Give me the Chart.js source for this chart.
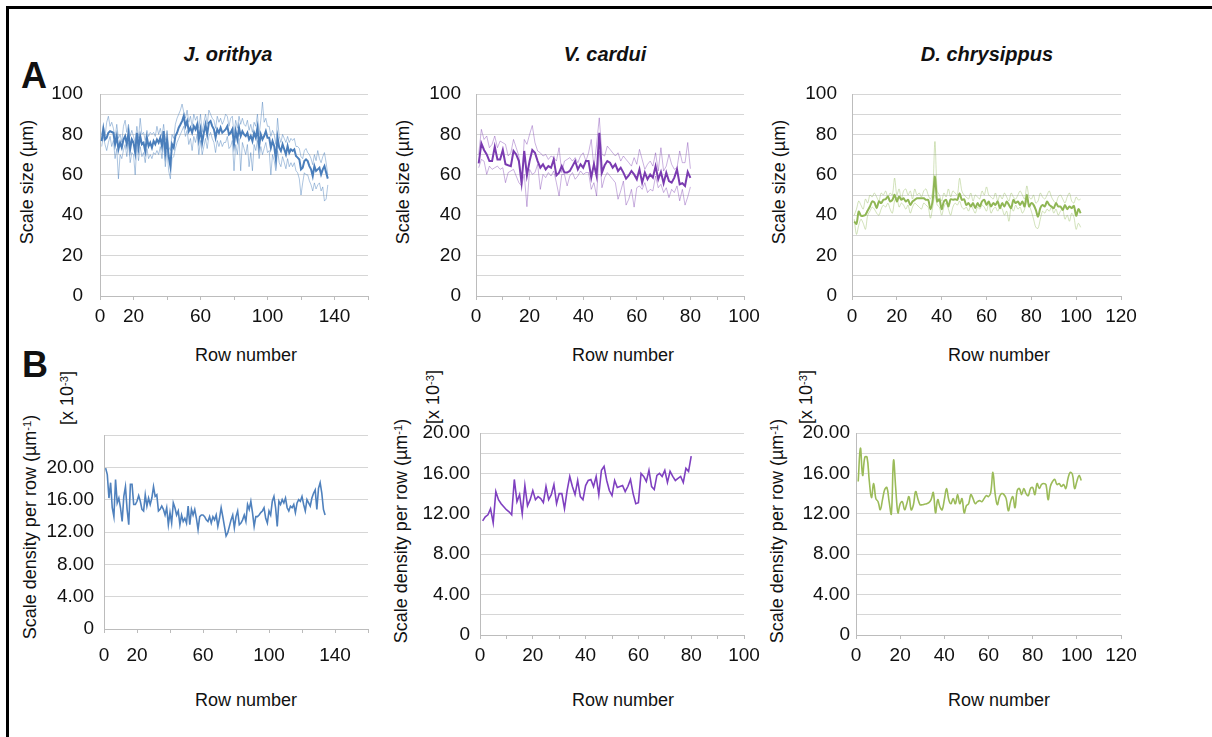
<!DOCTYPE html>
<html><head><meta charset="utf-8">
<script src="https://cdn.jsdelivr.net/npm/chart.js@4.4.0/dist/chart.umd.min.js"></script>
<style>
html,body{margin:0;padding:0;background:#fff;width:1212px;height:737px;overflow:hidden;position:relative;font-family:"Liberation Sans",Arial,sans-serif;color:#111}
.frame{position:absolute;left:6px;top:6px;width:1240px;height:780px;border:3px solid #000;box-sizing:border-box}
.t{position:absolute;white-space:nowrap;line-height:1;font-size:18px;transform:translate(-50%,-50%)}
.r{transform:translate(-50%,-50%) rotate(-90deg)}
.bi{font-weight:bold;font-style:italic;font-size:20px}
.big{font-weight:bold;font-size:36px}
.sp{position:relative;top:-0.45em;font-size:0.62em}
canvas{position:absolute}
</style></head>
<body>
<div class="frame"></div>
<div class="t big" style="left:34px;top:76px">A</div>
<div class="t big" style="left:35px;top:365px">B</div>
<div class="t bi" style="left:228px;top:54px">J. orithya</div>
<div class="t bi" style="left:605px;top:54px">V. cardui</div>
<div class="t bi" style="left:987px;top:54px">D. chrysippus</div>
<div class="t r" style="left:27px;top:182px">Scale size (µm)</div>
<div class="t r" style="left:403px;top:182px">Scale size (µm)</div>
<div class="t r" style="left:779px;top:182px">Scale size (µm)</div>
<div class="t" style="left:246px;top:355px">Row number</div>
<div class="t" style="left:623px;top:355px">Row number</div>
<div class="t" style="left:999px;top:355px">Row number</div>
<div class="t r" style="left:30px;top:527px">Scale density per row (µm<span class="sp">-1</span>)</div>
<div class="t r" style="left:401px;top:531px">Scale density per row (µm<span class="sp">-1</span>)</div>
<div class="t r" style="left:777px;top:531px">Scale density per row (µm<span class="sp">-1</span>)</div>
<div class="t r" style="left:67px;top:398px">[x 10<span class="sp">-3</span>]</div>
<div class="t r" style="left:433px;top:397px">[x 10<span class="sp">-3</span>]</div>
<div class="t r" style="left:806px;top:397px">[x 10<span class="sp">-3</span>]</div>
<div class="t" style="left:246px;top:700px">Row number</div>
<div class="t" style="left:623px;top:700px">Row number</div>
<div class="t" style="left:999px;top:700px">Row number</div>
<script>
// ---------- DATA ----------
const orithyaSizeMean = [76.7,82.8,77.5,78.4,80.8,81.6,81.2,80.8,75.1,79.2,
72.6,75.9,73.4,77.5,79.2,75.1,80.8,72.6,77.5,75.9,
70.9,80.8,73.4,79.2,75.1,75.9,71.8,78.4,74.2,75.9,
73.4,76.7,75.1,77.5,75.9,78.4,74.2,81.6,70.9,77.5,
69.3,64.3,75.1,73.4,79.2,80.8,83.3,84.9,86.6,89.1,
84.1,86.6,81.6,83.3,80.8,84.1,82.5,84.9,77.5,82.5,
75.9,80.8,84.9,80.0,85.8,86.6,84.1,82.5,78.4,82.5,
80.8,83.3,80.8,81.6,82.5,84.1,80.0,80.8,82.5,75.1,
81.6,77.5,83.3,79.2,81.6,80.0,79.2,80.8,77.5,79.2,
76.7,80.8,78.4,83.3,74.2,80.0,77.5,79.2,81.6,78.4,
78.4,73.4,76.7,74.2,67.6,78.4,73.4,71.8,75.1,72.6,
70.1,74.2,70.9,72.6,71.8,72.6,69.3,68.5,67.6,62.7,
63.5,66.8,67.6,66.8,64.3,62.7,59.4,64.3,61.9,62.7,
63.5,60.2,62.7,64.3,61.1,58.1];
const orithyaSizeUpper = [80,84,79,86,89,84,86,83,78,85,
78,80,76,84,87,81,85,79,82,79,
76,84,78,88,80,81,77,82,79,81,
80,81,79,84,80,83,79,85,77,82,
74,72,80,78,85,88,90,92,95,91,
88,92,86,89,84,90,87,89,83,90,
81,86,90,85,92,90,88,87,83,89,
86,88,85,87,90,89,84,88,89,80,
87,83,89,85,88,85,84,87,82,85,
81,86,84,90,80,87,96,86,88,84,
84,79,82,80,75,88,79,76,80,78,
76,79,76,78,77,78,74,74,73,69,
68,72,73,71,70,68,65,70,67,72,
68,66,69,71,66,60];
const orithyaSizeLower = [74,79,75,72,76,79,74,77,68,73,
58,70,68,72,75,69,76,66,71,70,
60,75,67,74,69,71,66,73,68,70,
68,71,70,72,70,74,68,76,64,72,
62,58,68,69,73,76,78,80,82,84,
79,82,75,78,72,79,76,80,70,77,
70,74,78,73,79,81,78,76,71,77,
74,77,74,76,76,79,73,74,77,62,
75,70,78,62,76,73,70,75,64,71,
62,75,72,77,68,74,70,73,76,71,
72,60,70,67,62,72,66,64,69,66,
63,68,64,66,64,66,62,61,58,50,
56,61,60,60,57,55,52,56,53,55,
56,52,54,47,48,55];

const carduiSizeMean = [65.7,75.6,72.3,70.1,66.8,66.8,73.9,67.6,67.6,72.3,
65.2,64.7,64.3,71.8,70.1,66.8,56.1,71.8,59.7,66.8,
72.3,70.9,66.8,63.5,65.2,62.7,64.3,63.5,67.6,59.7,
61.1,64.3,61.1,61.1,61.9,64.3,66.8,62.7,65.2,63.5,
66.8,66.8,58.6,65.2,59.4,80.8,61.1,64.7,66.8,66.0,
63.5,65.2,61.9,63.5,61.1,58.1,59.7,61.9,60.2,57.8,
62.7,56.1,61.1,57.8,60.2,58.6,64.3,57.8,61.4,55.8,
61.1,56.9,56.1,58.6,62.7,55.3,55.8,54.5,61.5,58.5];
const carduiSizeUpper = [70.1,82.5,77.5,79.2,73.4,75.1,79.2,73.4,76.7,75.9,
75.1,69.3,70.9,77.5,73.4,69.3,54.5,77.5,75.1,80.0,
84.4,75.9,71.8,70.9,69.3,70.1,67.6,69.3,68.5,66.8,
73.4,61.1,66.8,67.6,68.5,66.8,68.5,66.0,69.3,70.9,
66.8,70.9,77.5,63.5,75.1,88.2,70.1,69.3,74.2,72.6,
70.9,69.3,70.9,66.8,69.3,67.6,66.0,64.3,68.5,65.2,
72.6,67.6,62.7,65.2,66.8,64.3,70.9,61.9,73.4,61.9,
64.3,70.1,65.2,62.7,63.5,71.8,66.0,66.0,76.0,63.0];
const carduiSizeLower = [63.5,67.6,66.8,60.2,64.3,62.7,63.5,64.3,62.7,63.5,
56.1,61.1,61.9,62.7,59.4,56.1,54.5,60.2,44.2,62.7,
60.2,61.1,65.2,52.8,60.2,58.6,61.1,59.4,61.9,56.1,
49.5,60.2,60.2,54.5,59.4,61.1,57.8,59.4,61.9,60.2,
61.1,61.1,52.8,56.1,49.5,71.8,53.6,58.6,61.1,59.4,
57.8,56.1,47.9,52.0,56.9,45.0,47.9,52.8,44.0,53.6,
54.5,52.8,56.1,51.2,52.8,52.0,59.4,53.6,55.3,51.2,
53.6,48.7,52.8,51.2,54.5,47.1,52.8,45.0,49.0,54.0];

const chrysippusSizeMean = [36.9,35.7,41.8,39.7,39.7,40.2,42.3,44.3,46.8,46.3,
43.5,46.8,46.0,47.6,47.9,49.3,46.8,47.6,50.1,46.8,
49.3,47.6,48.4,46.8,47.6,45.1,46.8,47.6,48.4,48.4,
48.4,48.4,47.6,47.6,43.0,47.6,59.2,46.8,47.9,43.0,
46.8,47.6,44.3,47.9,47.6,47.9,47.6,50.9,47.6,47.9,
45.1,46.0,44.3,46.0,43.5,46.0,44.3,46.8,47.6,45.1,
46.8,44.3,46.0,45.1,46.8,43.5,46.0,44.3,46.8,45.1,
43.5,47.6,46.0,46.8,45.1,46.8,44.3,50.1,44.3,46.0,
45.1,42.6,39.3,43.5,45.1,44.3,46.8,45.1,44.3,43.5,
46.0,44.3,44.3,42.6,45.1,43.0,44.3,43.5,44.6,39.7,
43.0,41.0];
const chrysippusSizeUpper = [40,43,47,45,43,48,46,50,49,51,
49,47,51,50,52,49,51,50,58.4,50,
53,48,52,53,50,52,48,53,50,51,
49,52,53,50,48,52,76.5,52,50,47,
51,49,53,49,52,51,50,58.3,52,50,
49,48,51,47,50,49,48,52,50,54,
50,49,48,51,47,50,48,51,49,47,
51,49,48,50,52,50,48,54.5,49,48,
50,46,47,51,49,48,50,52,49,47,
46,49,50,48,46,49,51,47,46,49,
47.5,48];
const chrysippusSizeLower = [38,30.5,35,38,36,33,40,42,44,43,
41,40,43,45,44,46,43,41,47,49,
44,46,45,43,45,41,44,46,45,44,
43,46,45,44,38.5,44,50,45,44,40,
44,46,43,40,44,46,45,47,44,43,
44,42,45,43,41,44,43,45,44,42,
46,41,43,44,42,44,43,40,42,37,
44,42,45,43,44,41,43,47,45,42,
38,34,33.5,38,42,41,43,42,44,41,
43,40,42,43,38,40,37,41,39,33,
36,34];

const orithyaDensity = [19.9,19.1,16.2,18.1,15.0,13.9,18.5,15.6,16.2,15.0,
13.3,16.4,17.6,14.8,12.9,17.9,17.9,15.4,15.4,15.8,
16.5,15.8,14.8,14.6,16.6,15.2,16.2,15.4,16.2,17.6,
16.4,16.6,14.6,14.8,15.2,14.8,14.1,15.0,12.9,14.4,
13.1,15.6,15.0,14.1,14.6,12.9,14.1,13.3,13.7,13.1,
15.2,12.9,14.8,14.1,14.8,13.7,12.3,13.9,14.1,14.1,
13.9,13.5,13.3,13.9,13.1,13.9,13.5,14.1,12.7,13.7,
15.0,13.9,12.7,11.5,11.9,12.7,13.5,14.1,12.5,13.9,
14.6,12.9,13.1,13.5,14.1,13.3,15.4,14.8,15.8,14.4,
12.7,13.9,13.9,14.1,14.4,14.6,15.0,13.7,13.1,14.6,
14.1,15.8,16.4,15.0,12.7,15.8,15.4,16.0,15.6,16.2,
15.0,14.6,15.2,15.0,15.4,14.4,15.6,16.0,15.8,16.4,
15.4,14.6,16.0,15.6,15.2,16.2,16.8,17.2,14.8,17.4,
18.1,16.8,14.8,14.1];
const carduiDensity = [11.3,11.7,11.9,12.5,11.1,14.2,13.4,13.0,12.7,12.4,
12.2,11.9,15.4,13.2,13.9,12.0,14.8,12.8,13.4,14.3,
13.4,13.7,13.5,13.1,14.7,13.4,13.9,14.9,13.0,14.0,
14.0,12.5,14.3,15.7,14.7,13.9,15.3,13.7,13.4,14.8,
15.3,15.4,14.7,15.7,13.9,16.3,16.7,15.3,14.3,13.8,
15.3,14.6,14.7,14.8,14.2,14.7,15.4,14.0,13.0,13.1,
16.0,15.7,15.2,16.3,14.7,14.4,15.8,16.0,15.7,16.3,
15.1,16.2,15.7,15.3,15.5,15.7,15.1,16.5,16.2,17.7];
const chrysippusDensity = [15.2,18.5,15.8,17.6,17.6,15.3,13.6,15.0,13.5,13.2,
12.4,13.4,14.4,14.6,13.2,12.0,17.3,14.5,12.1,13.0,
13.2,12.4,13.0,13.7,12.4,12.9,14.2,13.5,12.9,12.9,
12.95,13.0,13.1,13.4,14.1,12.1,13.4,12.7,12.4,13.4,
14.5,13.4,13.0,13.5,13.0,13.9,13.0,13.5,12.1,12.8,
13.0,13.9,13.5,13.0,13.2,13.3,13.2,13.5,13.8,13.7,
14.1,16.1,14.0,12.9,13.7,14.0,13.9,13.5,12.3,13.2,
13.7,12.6,14.3,14.5,13.9,14.5,14.0,13.8,14.5,14.6,
13.9,15.0,14.5,14.9,15.0,14.9,13.4,14.7,15.2,15.4,
14.9,15.0,14.7,14.9,14.5,15.5,16.1,15.9,14.5,15.2,
15.8,15.3];

// tick label sets
const xLabelsOrithya = [0,20,60,100,140];
const xLabelsCardui = [0,20,40,60,80,100];
const xLabelsChrysippus = [0,20,40,60,80,100,120];

// ---------- RENDER ----------
Chart.defaults.font.family = '"Liberation Sans", Arial, sans-serif';
Chart.defaults.font.size = 19;
Chart.defaults.color = '#111';

const YW = 80, PT = 14, PR = 30, XH = 44;
const GRID = '#d6d6d6', AXIS = '#bcbcbc';

function pts(arr){ return arr.map((v,i)=>({x:i+1, y:v})); }
function line(arr, color, width, tension){
  return {data: pts(arr), borderColor: color, borderWidth: width, pointRadius: 0, tension: tension||0, fill:false};
}
const labA = v => (v % 20 === 0 ? String(v) : '');
const labB = v => (v === 0 ? '0' : (v % 4 === 0 && v <= 20 ? v.toFixed(2) : ''));

function panel(g, datasets){
  const c = document.createElement('canvas');
  const w = (g.R - g.L) + YW + PR, h = (g.B - g.T) + PT + XH;
  c.width = w; c.height = h;
  c.style.left = (g.L - YW) + 'px'; c.style.top = (g.T - PT) + 'px';
  c.style.width = w + 'px'; c.style.height = h + 'px';
  document.body.appendChild(c);
  new Chart(c, {
    type: 'line',
    data: {datasets},
    options: {
      responsive: false, animation: false, devicePixelRatio: 1,
      layout: {padding: {top: PT, right: PR, left: 0, bottom: 0}},
      plugins: {legend: {display: false}, tooltip: {enabled: false}},
      scales: {
        x: {type: 'linear', min: 0, max: g.xMax,
          afterFit: s => { s.height = XH; s.paddingLeft = 0; s.paddingRight = 0; },
          ticks: {stepSize: g.xStep, autoSkip: false, maxRotation: 0, padding: g.xPad,
            callback: v => (g.xLabels.includes(v) ? String(v) : '')},
          grid: {drawOnChartArea: false, drawTicks: true, tickLength: 4, tickColor: AXIS},
          border: {color: AXIS}},
        y: {min: 0, max: g.yMax,
          afterFit: s => { s.width = YW; s.paddingTop = 0; s.paddingBottom = 0; },
          ticks: {stepSize: g.yStep, autoSkip: false, padding: g.yPad, callback: g.yLab},
          grid: {color: GRID, drawTicks: false},
          border: {color: AXIS}}
      }
    }
  });
}

const BLUE = '#4a7ebb', BLUE_T = 'rgba(74,126,187,0.45)';
const PURP = '#7a3bb0', PURP_T = 'rgba(122,59,176,0.40)';
const GRN = '#8fb654', GRN_T = 'rgba(143,182,84,0.40)';

panel({L:100,T:94,R:368,B:296,xMax:160,xStep:20,xLabels:xLabelsOrithya,yMax:100,yStep:10,yLab:labA,yPad:17,xPad:5},
  [line(orithyaSizeMean,BLUE,2), line(orithyaSizeUpper,BLUE_T,1), line(orithyaSizeLower,BLUE_T,1)]);
panel({L:476,T:94,R:744,B:296,xMax:100,xStep:10,xLabels:xLabelsCardui,yMax:100,yStep:10,yLab:labA,yPad:15,xPad:5},
  [line(carduiSizeMean,PURP,2), line(carduiSizeUpper,PURP_T,1), line(carduiSizeLower,PURP_T,1)]);
panel({L:852,T:94,R:1121,B:296,xMax:120,xStep:20,xLabels:xLabelsChrysippus,yMax:100,yStep:10,yLab:labA,yPad:15,xPad:5},
  [line(chrysippusSizeMean,GRN,2,0.3), line(chrysippusSizeUpper,GRN_T,1,0.3), line(chrysippusSizeLower,GRN_T,1,0.3)]);

panel({L:104,T:435,R:368,B:629,xMax:160,xStep:20,xLabels:xLabelsOrithya,yMax:24,yStep:4,yLab:labB,yPad:10,xPad:11},
  [line(orithyaDensity,'#4f81bd',1.6)]);
panel({L:480,T:433,R:744,B:635,xMax:100,xStep:10,xLabels:xLabelsCardui,yMax:20,yStep:2,yLab:labB,yPad:10,xPad:5},
  [line(carduiDensity,'#7f40c0',1.6)]);
panel({L:856,T:433,R:1121,B:635,xMax:120,xStep:20,xLabels:xLabelsChrysippus,yMax:20,yStep:2,yLab:labB,yPad:6,xPad:5},
  [line(chrysippusDensity,'#9bbb59',1.6,0.4)]);
</script>
</body></html>
